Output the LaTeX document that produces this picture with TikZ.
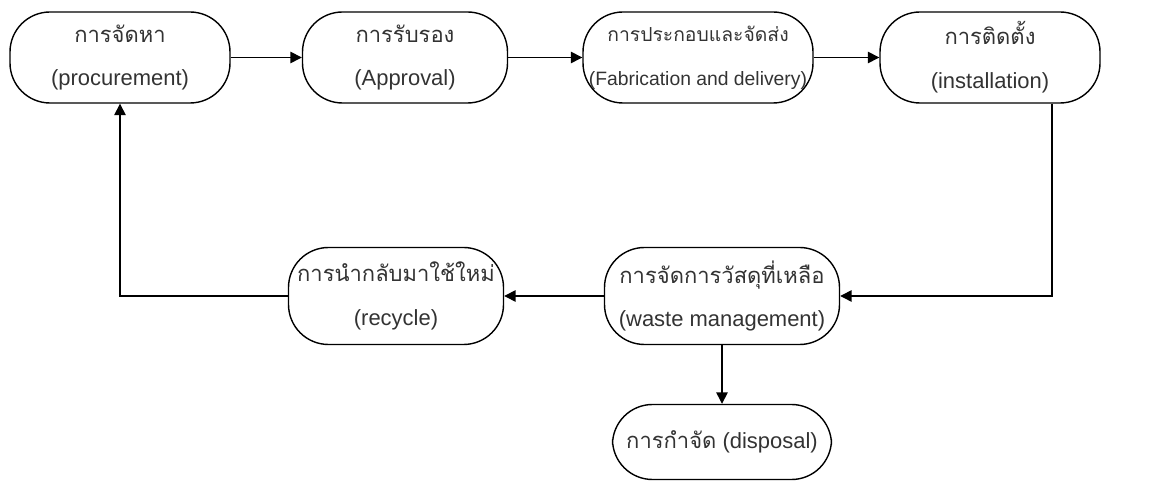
\documentclass[tikz,border=0pt]{standalone}
\usepackage{fontspec}
\setmainfont{Liberation Sans}
\newfontfamily\thaifont[Script=Thai]{Loma}
\usetikzlibrary{arrows.meta,chains,positioning,scopes}
\tikzset{>={Triangle[length=6.5pt,width=6.5pt]},
         every join/.style={->},
         stage/.style={draw, line width=0.8pt, rounded corners=0.8cm,
                       align=center, inner sep=0pt, text=black!80,
                       font=\fontsize{12.5}{25}\selectfont}}

\begin{document}
\begin{tikzpicture}[line width=0.8pt]
	  \useasboundingbox (0,0) rectangle (23.1,9.76);
	  % top row
	  \node[stage, minimum width=4.4cm, minimum height=1.82cm] (proc) at (2.40,8.61)
	    {{\thaifont การจัดหา}\\(procurement)};
	  \node[stage, minimum width=4.1cm, minimum height=1.82cm] (appr) at (8.10,8.61)
	    {{\thaifont การรับรอง}\\(Approval)};
	  \node[stage, minimum width=4.6cm, minimum height=1.82cm,
	        font=\fontsize{11}{25}\selectfont] (fab) at (13.96,8.61)
	    {{\thaifont การประกอบและจัดส่ง}\\(Fabrication and delivery)};
	  \node[stage, minimum width=4.4cm, minimum height=1.82cm] (inst) at (19.80,8.61)
	    {{\thaifont การติดตั้ง}\\(installation)};
	  % lower rows
	  \node[stage, minimum width=4.7cm, minimum height=1.94cm] (waste) at (14.44,3.84)
	    {{\thaifont การจัดการวัสดุที่เหลือ}\\(waste management)};
	  \node[stage, minimum width=4.3cm, minimum height=1.94cm] (recy) at (7.92,3.84)
	    {{\thaifont การนำกลับมาใช้ใหม่}\\(recycle)};
	  \node[stage, minimum width=4.38cm, minimum height=1.5cm] (disp) at (14.44,0.92)
	    {{\thaifont การกำจัด} (disposal)};
	  { [start chain] \chainin (proc);
	    \chainin (appr) [join];
	    \chainin (fab) [join];
	    \chainin (inst) [join]; }
	  \draw[->] ([xshift=1.24cm]inst.south) |- (waste.east);
	  \draw[->] (waste) -- (recy);
	  \draw[->] (waste) -- (disp);
	  \draw[->] (recy.west) -| (proc.south);
\end{tikzpicture}
\end{document}
